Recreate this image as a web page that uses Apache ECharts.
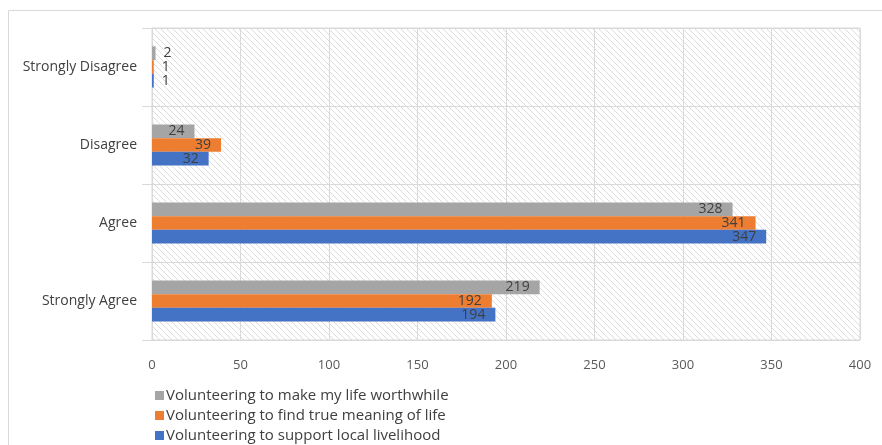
<!DOCTYPE html>
<html><head><meta charset="utf-8">
<script src="https://cdn.jsdelivr.net/npm/echarts@6/dist/echarts.min.js"></script>
<style>html,body{margin:0;padding:0;background:#fff}#c{width:882px;height:445px}</style>
</head><body><div id="c"></div>
<script>
const categories = ['Strongly Agree', 'Agree', 'Disagree', 'Strongly Disagree'];
const seriesNames = ['Volunteering to make my life worthwhile', 'Volunteering to find true meaning of life', 'Volunteering to support local livelihood'];
const worthwhile = [219, 328, 24, 2];
const meaning = [192, 341, 39, 1];
const livelihood = [194, 347, 32, 1];
const xTicks = [0, 50, 100, 150, 200, 250, 300, 350, 400];
const colors = ['#A5A5A5', '#ED7D31', '#4472C4'];

const tile = document.createElement('canvas');
tile.width = 6; tile.height = 6;
const g = tile.getContext('2d');
g.fillStyle = '#ffffff'; g.fillRect(0, 0, 6, 6);
g.strokeStyle = '#dcdcdc'; g.lineWidth = 1;
g.beginPath(); g.moveTo(-1, -1); g.lineTo(7, 7); g.stroke();
g.beginPath(); g.moveTo(-1, 5); g.lineTo(1, 7); g.stroke();
g.beginPath(); g.moveTo(5, -1); g.lineTo(7, 1); g.stroke();

const font = '"Open Sans", "Liberation Sans", Arial, sans-serif';
function mk(vals) {
  return vals.map(v => v < 5 ? { value: v, label: { position: 'right', distance: 8 } } : v);
}
const lists = [worthwhile, meaning, livelihood];
const chart = echarts.init(document.getElementById('c'));
chart.setOption({
  animation: false,
  graphic: [{ type: 'rect', shape: { x: 8.5, y: 10.5, width: 900, height: 500 }, style: { fill: 'none', stroke: '#d9d9d9', lineWidth: 1 }, silent: true, z: -10 }],
  grid: { left: 152, right: 22, top: 28, bottom: 105, show: true, backgroundColor: { image: tile, repeat: 'repeat' }, borderColor: '#d9d9d9', borderWidth: 1 },
  xAxis: {
    type: 'value', min: xTicks[0], max: xTicks[xTicks.length - 1], interval: 50,
    axisLine: { show: false }, axisTick: { show: false },
    splitLine: { show: true, lineStyle: { color: '#d9d9d9', width: 1 } },
    axisLabel: { color: '#595959', fontSize: 13, fontFamily: font, margin: 19 }
  },
  yAxis: {
    type: 'category', data: categories,
    axisLine: { show: true, lineStyle: { color: '#d9d9d9' } },
    axisTick: { show: true, length: 10, lineStyle: { color: '#d9d9d9' } },
    splitLine: { show: true, lineStyle: { color: '#d9d9d9' } },
    axisLabel: { color: '#404040', fontSize: 14, fontFamily: font, margin: 15 }
  },
  legend: {
    orient: 'vertical', left: 150, top: 383, height: 70, itemWidth: 9, itemHeight: 9, itemGap: 5,
    data: seriesNames.slice(),
    textStyle: { color: '#404040', fontSize: 15, fontFamily: font, padding: [0, 0, 0, -3] },
    icon: 'rect'
  },
  series: lists.map((vals, i) => ({
    type: 'bar', name: seriesNames[i], data: mk(vals),
    itemStyle: { color: colors[i] }, barWidth: 13.7, barGap: '0%',
    label: { show: true, position: 'insideRight', distance: 10, color: '#404040', fontSize: 14, fontFamily: font }
  }))
});
</script></body></html>
